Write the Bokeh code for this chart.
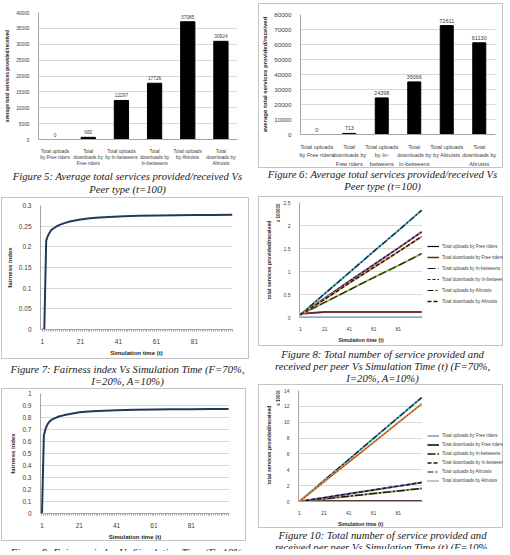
import math
from bokeh.plotting import figure
from bokeh.layouts import column, row
from bokeh.models import (Div, FixedTicker, Legend, LegendItem, Label, Range1d,
                          NumeralTickFormatter)
from bokeh.embed import file_html
from bokeh.resources import INLINE
from bokeh.core.properties import value

# ---------------- data ----------------
peer_categories_5 = ["Total uploads\nby Free riders", "Total\ndownloads by\nFree riders",
                     "Total uploads\nby In-betweens", "Total\ndownloads by\nIn-betweens",
                     "Total uploads\nby Altruists", "Total\ndownloads by\nAltruists"]
services_5 = [0, 682, 12297, 17726, 37085, 30924]

peer_categories_6 = ["Total uploads\nby Free riders", "Total\ndownloads by\nFree riders",
                     "Total uploads\nby In-\nbetweens", "Total\ndownloads by\nIn-betweens",
                     "Total uploads\nby Altruists", "Total\ndownloads by\nAltruists"]
services_6 = [0, 713, 24398, 35066, 72611, 61130]

y_ticks_5 = [0, 5000, 10000, 15000, 20000, 25000, 30000, 35000, 40000]
y_ticks_6 = [0, 10000, 20000, 30000, 40000, 50000, 60000, 70000, 80000]
time_ticks = [1, 21, 41, 61, 81]
fair_ticks_7 = [0, 0.05, 0.1, 0.15, 0.2, 0.25, 0.3]
fair_ticks_9 = [0, 0.1, 0.2, 0.3, 0.4, 0.5, 0.6, 0.7, 0.8, 0.9, 1]
service_ticks_8 = [0, 0.5, 1, 1.5, 2, 2.5]
service_ticks_10 = [0, 2, 4, 6, 8, 10, 12, 14]

t_7 = [1, 2, 3, 4, 5, 6, 8, 10, 13, 16, 21, 26, 31, 41, 51, 61, 71, 81, 91, 101]
fairness_7 = [0, 0, 0.215, 0.228, 0.236, 0.242, 0.248, 0.253, 0.258, 0.262, 0.266,
              0.269, 0.271, 0.2735, 0.275, 0.276, 0.2765, 0.277, 0.2772, 0.2775]

t_9 = [1, 2, 3, 4, 5, 6, 8, 10, 13, 16, 21, 26, 31, 41, 51, 61, 71, 81, 91, 101]
fairness_9 = [0, 0.65, 0.71, 0.745, 0.765, 0.78, 0.795, 0.808, 0.82, 0.83, 0.843,
              0.85, 0.855, 0.86, 0.864, 0.866, 0.868, 0.869, 0.87, 0.87]

series_names = ["Total uploads by Free riders", "Total downloads by Free riders",
                "Total uploads by In-betweens", "Total downloads by In-betweens",
                "Total uploads by Altruists", "Total downloads by Altruists"]

t_8 = [1, 21, 41, 61, 81, 100]
up_free_8 = [0, 0, 0, 0, 0, 0]
down_free_8 = [0.08, 0.12, 0.12, 0.12, 0.12, 0.12]
up_inb_8 = [0.06, 0.33, 0.60, 0.87, 1.13, 1.39]
down_inb_8 = [0.06, 0.42, 0.79, 1.15, 1.51, 1.86]
up_alt_8 = [0.06, 0.52, 0.98, 1.44, 1.89, 2.33]
down_alt_8 = [0.06, 0.40, 0.75, 1.09, 1.43, 1.76]

t_10 = [1, 21, 41, 61, 81, 100]
up_free_10 = [0, 0, 0, 0, 0, 0]
down_free_10 = [0.02, 0.02, 0.02, 0.02, 0.02, 0.02]
up_inb_10 = [0.0, 0.33, 0.67, 1.0, 1.33, 1.65]
down_inb_10 = [0.0, 0.48, 0.97, 1.45, 1.94, 2.4]
up_alt_10 = [0.0, 2.65, 5.3, 7.95, 10.6, 13.1]
down_alt_10 = [0.0, 2.48, 4.97, 7.45, 9.94, 12.3]

captions = {
    5: "Figure 5: Average total services provided/received Vs<br>Peer type (t=100)",
    6: "Figure 6: Average total services provided/received Vs<br>Peer type (t=100)",
    7: "Figure 7: Fairness index Vs Simulation Time (F=70%,<br>I=20%, A=10%)",
    8: "Figure 8: Total number of service provided and<br>received per peer Vs Simulation Time (t) (F=70%,<br>I=20%, A=10%)",
    9: "Figure 9: Fairness index Vs Simulation Time (F=10%,<br>I=20%, A=70%)",
    10: "Figure 10: Total number of service provided and<br>received per peer Vs Simulation Time (t) (F=10%,<br>I=20%, A=70%)",
}

# ---------------- styles ----------------
FONT = "Liberation Sans"
GRID = "#cfcfcf"
AXC = "#a6a6a6"
TXT = "#404040"
BC = "1px solid #c4c4c4"
BOX = {"border": BC}
SERIES_COLORS = ["#4F81BD", "#C0504D", "#9BBB59", "#8064A2", "#4BACC6", "#F79646"]


def base_fig(w, h, left, right, top, bottom, **kw):
    p = figure(width=w, height=h, output_backend="svg", toolbar_location=None,
               min_border_left=left, min_border_right=right,
               min_border_top=top, min_border_bottom=bottom, **kw)
    p.outline_line_color = None
    p.xgrid.grid_line_color = None
    p.ygrid.grid_line_color = GRID
    p.ygrid.grid_line_width = 0.8
    return p


def blank_fig(w, h, styles, margin=None, xr=(0, 1)):
    kw = {"margin": margin} if margin else {}
    p = figure(width=w, height=h, output_backend="svg", toolbar_location=None,
               x_range=Range1d(*xr), y_range=Range1d(0, 1),
               x_axis_type=None, y_axis_type=None, min_border=0,
               styles=styles, **kw)
    p.outline_line_color = None
    p.grid.visible = False
    return p


def style_axes(p, tick_size, label_size, font=FONT):
    for ax in p.axis:
        ax.axis_line_color = AXC
        ax.major_tick_line_color = None
        ax.minor_tick_line_color = None
        ax.major_label_text_font = font
        ax.major_label_text_font_size = tick_size
        ax.major_label_text_color = TXT
        ax.axis_label_text_font = font
        ax.axis_label_text_font_size = label_size
        ax.axis_label_text_font_style = "bold"
        ax.axis_label_text_color = "#262626"
        ax.major_label_standoff = 3
        ax.axis_label_standoff = 3


def caption(key, w, h, pad, lh, size="10.7px"):
    html = ('<div style="font-family:\'Liberation Serif\';font-style:italic;'
            f'font-size:{size};line-height:{lh}px;text-align:center;color:#1a1a1a;'
            f'padding-top:{pad}px;width:{w}px;white-space:nowrap">{captions[key]}</div>')
    return Div(text=html, width=w, height=h, margin=0, styles={"overflow": "hidden"})


def bar_chart(cats, vals, ticks, w, h, left, right, top, bottom, tick_size, lab_size,
              val_size, bar_w, ymax, margin=None, styles=None):
    kw = {}
    if styles:
        kw["styles"] = styles
    if margin:
        kw["margin"] = margin
    p = base_fig(w, h, left, right, top, bottom, x_range=cats,
                 y_range=Range1d(0, ymax), **kw)
    p.vbar(x=cats, top=vals, width=bar_w, color="black")
    p.text(x=cats, y=vals, text=[str(v) for v in vals], y_offset=-3,
           text_font=value(FONT), text_font_size=val_size, text_color=TXT,
           text_align="center", text_baseline="bottom")
    style_axes(p, tick_size, lab_size)
    p.yaxis.ticker = FixedTicker(ticks=ticks)
    p.yaxis.axis_label = "average total services provided/received"
    p.xaxis.major_label_text_line_height = 1.2
    p.xaxis.major_label_standoff = 3
    return p


# Figure 5
p5 = bar_chart(peer_categories_5, services_5, y_ticks_5, 255, 168, 29, 18, 12, 23,
               "4.8px", "4.8px", "4.8px", 0.43, 40000)

# Figure 6
p6 = bar_chart(peer_categories_6, services_6, y_ticks_6, 245, 165, 35, 9, 10, 31,
               "6.2px", "6px", "5.5px", 0.4, 80000, margin=(3, 0, 0, 3), styles=BOX)
p6.xaxis.major_label_text_font_size = "5.6px"
p6.xaxis.major_label_text_line_height = 1.45


def fair_chart(t, f, ticks, ymax, xr, w, h, left, right, top, bottom, fmt, margin):
    p = base_fig(w, h, left, right, top, bottom, x_range=Range1d(*xr),
                 y_range=Range1d(0, ymax), styles=BOX, margin=margin)
    p.line(t, f, line_color="#22395a", line_width=2)
    style_axes(p, "6.5px", "6px")
    p.xaxis.ticker = FixedTicker(ticks=time_ticks, minor_ticks=list(range(1, 102)))
    p.xaxis.minor_tick_line_color = AXC
    p.xaxis.minor_tick_out = 2
    p.xaxis.minor_tick_in = 0
    p.yaxis.ticker = FixedTicker(ticks=ticks)
    p.yaxis.formatter = NumeralTickFormatter(format=fmt)
    p.xaxis.axis_label = "Simulation time (t)"
    p.yaxis.axis_label = "fairness index"
    return p


p7 = fair_chart(t_7, fairness_7, fair_ticks_7, 0.3, (0, 101), 248, 162, 38, 2, 7, 31,
                "0.[00]", (0, 0, 0, 1))
p9 = fair_chart(t_9, fairness_9, fair_ticks_9, 1.0, (0.2, 101.5), 245, 153, 36, 9, 4, 25,
                "0.[0]", (0, 0, 0, 1))


def service_chart(t, series, ticks, ymax, overlays, h, top, bottom, fmt, scale_text,
                  scale_y, gh, sp, leg_y):
    # frames of the three strips are aligned by the row; y below is from frame bottom
    lab = blank_fig(22, h, {"border-top": BC, "border-bottom": BC, "border-left": BC},
                    margin=(0, 0, 0, 3))
    frame_mid = (h - top - bottom) / 2
    lab.add_layout(Label(x=9, y=frame_mid, x_units="screen", y_units="screen",
                         text="total services provided/received", angle=math.pi / 2,
                         text_align="center", text_baseline="middle", text_font=FONT,
                         text_font_size="5.2px", text_font_style="bold",
                         text_color="#262626"))
    lab.add_layout(Label(x=19, y=scale_y, x_units="screen", y_units="screen",
                         text=scale_text, angle=math.pi / 2, text_align="right",
                         text_baseline="middle", text_font=FONT, text_font_size="4.5px",
                         text_font_style="bold", text_color="#262626"))
    # plot
    p = base_fig(143, h, 11, 1, top, bottom, x_range=Range1d(0.3, 100.7),
                 y_range=Range1d(0, ymax),
                 styles={"border-top": BC, "border-bottom": BC})
    for vals, col, (oc, od, ow) in zip(series, SERIES_COLORS, overlays):
        p.line(t, vals, line_color=col, line_width=2)
        p.line(t, vals, line_color=oc, line_dash=od, line_width=ow)
    style_axes(p, "5px", "5.2px")
    p.xaxis.ticker = FixedTicker(ticks=time_ticks)
    p.yaxis.ticker = FixedTicker(ticks=ticks)
    p.yaxis.formatter = NumeralTickFormatter(format=fmt)
    p.xaxis.axis_label = "Simulation time (t)"
    # legend strip (its lines lie outside its own visible x range; only samples show)
    lg = blank_fig(80, h, {"border-top": BC, "border-bottom": BC, "border-right": BC},
                   xr=(-3, -2))
    items = []
    for n, vals, (oc, od, ow) in zip(series_names, series, overlays):
        r = lg.line(t, vals, line_color=oc, line_dash=od, line_width=ow)
        items.append(LegendItem(label=n, renderers=[r]))
    leg = Legend(items=items, location=(4, leg_y), border_line_color=None,
                 background_fill_alpha=0, label_text_font=FONT,
                 label_text_font_size="4.5px", label_text_color=TXT,
                 glyph_width=12, glyph_height=gh, label_height=gh,
                 spacing=sp, padding=0, margin=0, label_standoff=3)
    lg.add_layout(leg)
    return row(lab, p, lg, spacing=0)


overlays_8 = [("#000000", "solid", 1.2), ("#632523", "solid", 1.5), ("#1a1a1a", "8 3", 1.2),
              ("#1a1a1a", "3 2", 1.2), ("#1a1a1a", "6 2 2 2", 1.2), ("#1a1a1a", "4 2", 1.5)]
overlays_10 = [("#4F81BD", "solid", 1.2), ("#000000", "solid", 1.5), ("#1a1a1a", "8 2 2 2", 1.5),
               ("#1a1a1a", "4 2", 1.5), ("#1a1a1a", "6 2 2 2", 1.2), ("#1a1a1a", "1 1", 1)]

f8 = service_chart(t_8, [up_free_8, down_free_8, up_inb_8, down_inb_8, up_alt_8, down_alt_8],
                   service_ticks_8, 2.5, overlays_8, 150, 5, 30, "0.[0]", "x 100000",
                   114, 8, 3, 12)
f10 = service_chart(t_10, [up_free_10, down_free_10, up_inb_10, down_inb_10, up_alt_10, down_alt_10],
                    service_ticks_10, 14, overlays_10, 144, 5, 26, "0", "x 10000",
                    112, 7, 2, 17)

cap5 = caption(5, 255, 29, 2, 12.5)
cap7 = caption(7, 255, 29, 5, 11.5)
cap9 = caption(9, 255, 10, 5, 12)
cap6 = caption(6, 255, 28, 1, 11.5)
cap8 = caption(8, 255, 38, 2, 12)
cap10 = caption(10, 255, 21, 2, 11.5)

left = column(p5, cap5, p7, cap7, p9, cap9, spacing=0)
right = column(p6, cap6, f8, cap8, f10, cap10, spacing=0)
root = row(left, right, spacing=0)

open("out.html", "w").write(file_html(root, INLINE))
